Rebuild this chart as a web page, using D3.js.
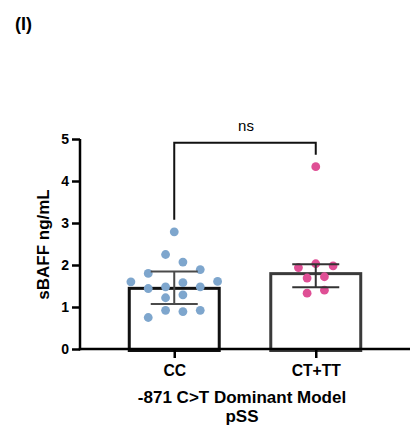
<!DOCTYPE html>
<html>
<head>
<meta charset="utf-8">
<script src="https://cdn.jsdelivr.net/npm/d3@7"></script>
<style>
  body { margin: 0; background: #fff; }
  text { font-family: 'Liberation Sans', Arial, sans-serif; }
</style>
</head>
<body>
<svg id="chart"></svg>
<script>
// genotype groups (values in data-table order)
const categories = ['CC', 'CT+TT']
const ccValues = [2.79, 2.25, 2.07, 1.80, 1.89, 1.60, 1.44, 1.48, 1.58, 1.48, 1.61, 1.22, 1.29, 0.75, 0.92, 0.89, 0.92]
const ctValues = [4.34, 1.94, 2.03, 1.98, 1.69, 1.72, 1.33, 1.40]
const yTicks = [0, 1, 2, 3, 4, 5]
const dotColors = ['#7ea6cd', '#df4f95']
const barStrokes = ['#111111', '#3a3a3a']
const errStrokes = ['#4a4a4a', '#333333']

const width = 417
const height = 430
const margin = { top: 139, right: 7, bottom: 81, left: 80 }

const svg = d3.select('#chart').attr('width', width).attr('height', height)

const x = d3
  .scalePoint()
  .domain(categories)
  .range([margin.left, width - margin.right])
  .padding(0.666)

const y = d3
  .scaleLinear()
  .domain([0, 5])
  .range([height - margin.bottom, margin.top])

const step = x.step()
const barWidth = step * 0.657
const border = 3

// Prism style quantile, (n+1)p
function quantile(values, p) {
  const s = values.slice().sort((a, b) => a - b)
  const pos = (s.length + 1) * p - 1
  const lo = Math.max(0, Math.floor(pos))
  const hi = Math.min(s.length - 1, lo + 1)
  return s[lo] + (s[hi] - s[lo]) * (pos - lo)
}

const groups = [ccValues, ctValues].map((values, i) => ({
  name: categories[i],
  values,
  median: quantile(values, 0.5),
  q1: quantile(values, 0.25),
  q3: quantile(values, 0.75),
  max: d3.max(values),
  color: dotColors[i],
  stroke: barStrokes[i],
  err: errStrokes[i],
}))

// bars (stroke kept inside the value)
svg
  .selectAll('.bar')
  .data(groups)
  .join('rect')
  .attr('class', 'bar')
  .attr('x', (d) => x(d.name) - barWidth / 2 + border / 2)
  .attr('y', (d) => y(d.median) + border / 2)
  .attr('width', barWidth - border)
  .attr('height', (d) => y(0) - y(d.median))
  .attr('fill', 'none')
  .attr('stroke', (d) => d.stroke)
  .attr('stroke-width', border)

// scatter: points binned into rows, each row centred; a row is pushed
// outward when it would overlap the row above
const r = 4.4
const half = 8.67
const rowH = 2 * r + 0.2

function swarm(values, cx) {
  const pts = values.map((v, i) => ({ v, i, py: y(v) }))
  const sorted = pts.slice().sort((a, b) => a.py - b.py || a.i - b.i)
  const rows = []
  sorted.forEach((p) => {
    const last = rows[rows.length - 1]
    if (last && p.py - last.start < rowH) last.pts.push(p)
    else rows.push({ start: p.py, pts: [p] })
  })
  const placed = []
  rows.forEach((row) => {
    const members = row.pts.sort((a, b) => a.i - b.i)
    const n = members.length
    let offs = members.map((_, k) => (2 * k - (n - 1)) * half)
    const hits = (o) =>
      members.some((p, k) =>
        placed.some((q) => Math.hypot(cx + o[k] - q.x, p.py - q.py) < rowH)
      )
    for (let t = 0; t < 3 && hits(offs); t++) {
      offs = offs.map((o) => o + Math.sign(o) * 2 * half)
    }
    members.forEach((p, k) => {
      p.x = cx + offs[k]
      placed.push(p)
    })
  })
  return pts
}

groups.forEach((g) => {
  svg
    .append('g')
    .selectAll('circle')
    .data(swarm(g.values, x(g.name)))
    .join('circle')
    .attr('cx', (d) => d.x)
    .attr('cy', (d) => d.py)
    .attr('r', r)
    .attr('fill', g.color)
})

// error bars: median with interquartile range
const cap = 23.5
const eb = svg.selectAll('.err').data(groups).join('g').attr('class', 'err')
  .attr('stroke', (d) => d.err).attr('stroke-width', 2)
eb.append('line')
  .attr('x1', (d) => x(d.name)).attr('x2', (d) => x(d.name))
  .attr('y1', (d) => y(d.q1)).attr('y2', (d) => y(d.q3))
eb.append('line')
  .attr('x1', (d) => x(d.name) - cap).attr('x2', (d) => x(d.name) + cap)
  .attr('y1', (d) => y(d.q3)).attr('y2', (d) => y(d.q3))
eb.append('line')
  .attr('x1', (d) => x(d.name) - cap).attr('x2', (d) => x(d.name) + cap)
  .attr('y1', (d) => y(d.q1)).attr('y2', (d) => y(d.q1))

// axes
const yAxis = svg
  .append('g')
  .attr('transform', `translate(${margin.left},0)`)
  .call(d3.axisLeft(y).tickValues(yTicks).tickSize(8).tickPadding(3).tickFormat(d3.format('d')))
yAxis.select('.domain').attr('d', `M0,${y(5)}V${y(0) + 1.25}`)

const xAxis = svg
  .append('g')
  .attr('transform', `translate(0,${y(0)})`)
  .call(d3.axisBottom(x).tickSize(9).tickPadding(7))
xAxis.select('.domain').attr('d', `M${margin.left - 1.25},0H${width - margin.right}`)

svg.selectAll('.domain, .tick line').attr('stroke', '#000').attr('stroke-width', 2.5)
yAxis.selectAll('.tick text').attr('font-size', 14).attr('font-weight', 'bold').attr('fill', '#000')
  .attr('font-family', 'Liberation Sans, Arial, sans-serif')
xAxis.selectAll('.tick text').attr('font-size', 15.7).attr('font-weight', 'bold').attr('fill', '#000')
  .attr('font-family', 'Liberation Sans, Arial, sans-serif')

// y title
svg
  .append('text')
  .attr('transform', `translate(49,${(y(0) + y(5)) / 2 + 0.5}) rotate(-90)`)
  .attr('text-anchor', 'middle')
  .attr('font-size', 17)
  .attr('font-weight', 'bold')
  .text('sBAFF ng/mL')

// x title, two lines
const xTitle = svg
  .append('text')
  .attr('text-anchor', 'middle')
  .attr('font-size', 17)
  .attr('font-weight', 'bold')
xTitle.append('tspan').attr('x', 242).attr('y', 402.5).text('-871 C>T Dominant Model')
xTitle.append('tspan').attr('x', 242).attr('dy', 19).text('pSS')

// panel letter
svg
  .append('text')
  .attr('x', 15)
  .attr('y', 30)
  .attr('font-size', 18)
  .attr('font-weight', 'bold')
  .text('(I)')

// significance bracket
const gap = 12
const legL = y(groups[0].max) - gap
const legR = y(groups[1].max) - gap
const bracketY = Math.min(legL, legR) - gap
const xa = x(categories[0])
const xb = x(categories[1])
svg
  .append('path')
  .attr('d', `M${xa},${legL}V${bracketY}H${xb}V${legR}`)
  .attr('fill', 'none')
  .attr('stroke', '#111')
  .attr('stroke-width', 2)
svg
  .append('text')
  .attr('x', (xa + xb) / 2 + 1)
  .attr('y', bracketY - 12)
  .attr('text-anchor', 'middle')
  .attr('font-size', 15)
  .text('ns')
</script>
</body>
</html>
